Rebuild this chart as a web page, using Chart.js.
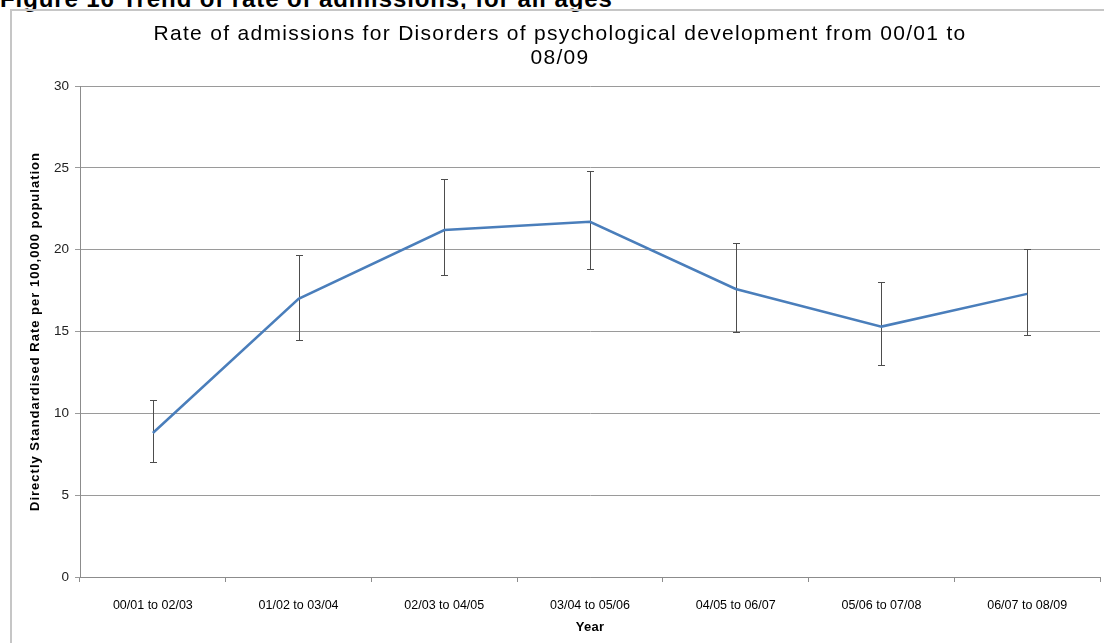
<!DOCTYPE html>
<html>
<head>
<meta charset="utf-8">
<script src="https://cdn.jsdelivr.net/npm/chart.js@4/dist/chart.umd.min.js"></script>
<style>
  html, body { margin: 0; padding: 0; background: #fff; overflow: hidden; }
  #wrap { position: relative; width: 1104px; height: 643px; }
  #heading {
    position: absolute; left: 0; top: -13px; white-space: nowrap; letter-spacing: 0.9px;
    font: bold 24px/24px "Liberation Sans", Arial, sans-serif; color: #000;
  }
  #frame {
    position: absolute; left: 10px; top: 9px; width: 1110px; height: 700px;
    border: 2px solid #c6c6c6; box-sizing: border-box;
  }
  #title {
    position: absolute; left: 60px; width: 1000px; top: 21px; text-align: center;
    font: 21px/24px "Liberation Sans", Arial, sans-serif; letter-spacing: 1.3px; color: #000;
    z-index: 2;
  }
  canvas { position: absolute; left: 0; top: 0; z-index: 1; }
</style>
</head>
<body>
<div id="wrap">
  <div id="heading">Figure 16 Trend of rate of admissions, for all ages</div>
  <div id="frame"></div>
  <canvas id="chart" width="1104" height="643"></canvas>
  <div id="title">Rate of admissions for Disorders of psychological development from 00/01 to<br>08/09</div>
</div>
<script>
// Three-year rolling periods
const periods = ['00/01 to 02/03', '01/02 to 03/04', '02/03 to 04/05', '03/04 to 05/06',
                 '04/05 to 06/07', '05/06 to 07/08', '06/07 to 08/09'];
// Directly standardised admission rate per 100,000
const rates = [8.8, 17.0, 21.2, 21.7, 17.6, 15.3, 17.3];
// 95% confidence limits
const upperCI = [10.8, 19.7, 24.3, 24.8, 20.4, 18.0, 20.05];
const lowerCI = [7.0, 14.5, 18.45, 18.8, 15.0, 12.95, 14.8];
// Value axis ticks
const yTicks = [0, 5, 10, 15, 20, 25, 30];

const FONT = '"Liberation Sans", Arial, sans-serif';
const Y_TITLE = 'Directly Standardised Rate per 100,000 population';
const X_TITLE = 'Year';

// Draws vertical confidence-interval bars with short caps
const errorBars = {
  id: 'errorBars',
  beforeDatasetsDraw(chart) {
    const { ctx, scales: { x, y } } = chart;
    ctx.save();
    ctx.strokeStyle = '#4d4d4d';
    ctx.lineWidth = 1;
    const cap = 3.5;
    rates.forEach((_, i) => {
      const px = Math.round(x.getPixelForValue(i)) + 0.5;
      const top = Math.round(y.getPixelForValue(upperCI[i])) + 0.5;
      const bot = Math.round(y.getPixelForValue(lowerCI[i])) + 0.5;
      ctx.beginPath();
      ctx.moveTo(px, top); ctx.lineTo(px, bot);
      ctx.moveTo(px - cap, top); ctx.lineTo(px + cap, top);
      ctx.moveTo(px - cap, bot); ctx.lineTo(px + cap, bot);
      ctx.stroke();
    });
    ctx.restore();
  }
};

// Axis titles, drawn with a little extra letter spacing
const axisTitles = {
  id: 'axisTitles',
  afterDraw(chart) {
    const { ctx, chartArea } = chart;
    ctx.save();
    ctx.fillStyle = '#000';
    ctx.textAlign = 'center';
    ctx.textBaseline = 'middle';
    ctx.font = 'bold 13px ' + FONT;
    if ('letterSpacing' in ctx) ctx.letterSpacing = '1px';
    ctx.save();
    ctx.translate(35, (chartArea.top + chartArea.bottom) / 2);
    ctx.rotate(-Math.PI / 2);
    ctx.fillText(Y_TITLE, 0, 0);
    ctx.restore();
    if ('letterSpacing' in ctx) ctx.letterSpacing = '0.3px';
    ctx.fillText(X_TITLE, (chartArea.left + chartArea.right) / 2, 627);
    ctx.restore();
  }
};

new Chart(document.getElementById('chart'), {
  type: 'line',
  data: {
    labels: periods,
    datasets: [{
      label: 'Rate',
      data: rates,
      borderColor: '#4a7ebb',
      borderWidth: 2.5,
      pointRadius: 0,
      tension: 0,
      fill: false
    }]
  },
  options: {
    responsive: false,
    animation: false,
    devicePixelRatio: 1,
    layout: { padding: { left: 12, right: 4, top: 86, bottom: 0 } },
    plugins: {
      legend: { display: false },
      tooltip: { enabled: false },
      title: { display: false }
    },
    scales: {
      x: {
        offset: true,
        grid: { display: true, drawOnChartArea: false, offset: true, tickLength: 5, color: '#8c8c8c' },
        border: { display: true, color: '#8c8c8c' },
        ticks: { color: '#000', font: { family: FONT, size: 12.5 }, padding: 16, maxRotation: 0 },
        title: { display: false },
        afterFit(s) { s.height = 66; }
      },
      y: {
        min: 0, max: 30,
        afterBuildTicks(s) { s.ticks = yTicks.map(v => ({ value: v })); },
        grid: { color: '#9a9a9a', tickLength: 5 },
        border: { display: true, color: '#8c8c8c' },
        ticks: { color: '#222', font: { family: FONT, size: 13.5 }, padding: 6 },
        title: { display: false },
        afterFit(s) { s.width = 68; }
      }
    }
  },
  plugins: [errorBars, axisTitles]
});
</script>
</body>
</html>
